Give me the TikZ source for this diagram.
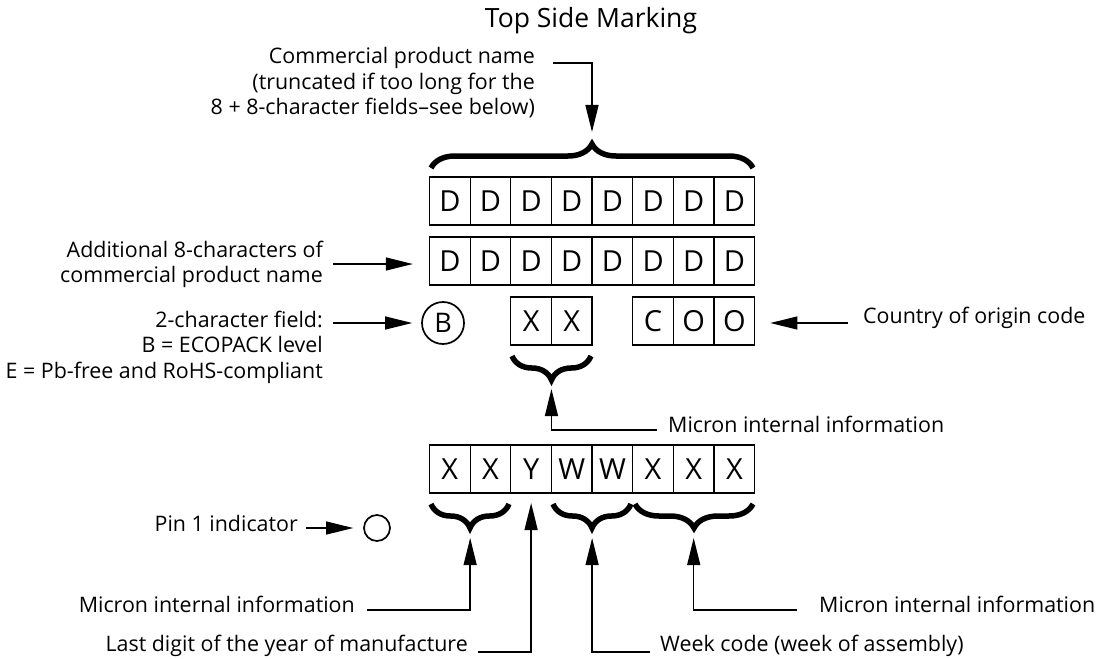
\documentclass[tikz,border=0pt]{standalone}
\usepackage{fontspec}
\setmainfont{Open Sans}
\usetikzlibrary{arrows.meta,decorations.pathreplacing}
\begin{document}
\begin{tikzpicture}[x=1pt,y=-1pt,
  lbl/.style={font=\fontsize{21.4}{25.5}\selectfont, inner sep=0pt},
  cell/.style={draw, line width=1.3pt, minimum width=40.65pt, minimum height=48pt, inner sep=0pt, font=\fontsize{29}{29}\selectfont},
  ring/.style={circle, draw, line width=1.7pt, inner sep=0pt},
  arr/.style={line width=1.4pt, -{Triangle[length=27pt,width=13pt]}},
  brc/.style={decorate, decoration={brace, amplitude=24pt}, line width=5.5pt},
]
\useasboundingbox (0,0) rectangle (1115,658);

% title
\node[lbl, font=\fontsize{26.5}{26.5}\selectfont] (title) at (591,21) {Top Side Marking};

% rows of cells
\foreach \i/\t in {1/D,2/D,3/D,4/D,5/D,6/D,7/D,8/D}{
  \node[cell] (ra\i) at ({429.5+40.65*(\i-0.5)},201) {\t};
  \node[cell] (rb\i) at ({429.5+40.65*(\i-0.5)},261) {\t};
}
\foreach \i/\t in {3/X,4/X,6/C,7/O,8/O}{
  \node[cell] (rc\i) at ({429.5+40.65*(\i-0.5)},321) {\t};
}
\foreach \i/\t in {1/X,2/X,3/Y,4/W,5/W,6/X,7/X,8/X}{
  \node[cell] (rd\i) at ({429.5+40.65*(\i-0.5)},469) {\t};
}
\node[ring, minimum size=42pt, font=\fontsize{27}{27}\selectfont] (bcirc) at (443,323) {B};
\node[ring, minimum size=26pt] (pinc) at (377,528) {};

% braces
\draw[brc] (431,168) -- (753,168);
\draw[brc] (591,356) -- (512,356);
\draw[brc] (509,504) -- (431,504);
\draw[brc] (631,504) -- (553,504);
\draw[brc] (753,504) -- (635,504);

% brace tips (arrow targets)
\coordinate (toptip) at (592,132);
\coordinate (xxtip) at (551.45,389);
\coordinate (t1) at (470.15,538);
\coordinate (ty) at (531.1,503);
\coordinate (t2) at (592.1,538);
\coordinate (t3) at (693.7,538);

% labels
\node[lbl, align=right, anchor=east] (cpn) at (535,83)
  {Commercial product name\\(truncated if too long for the\\8 + 8-character fields--see below)};
\node[lbl, align=right, anchor=east] (add) at (323,264.5)
  {Additional 8-characters of\\commercial product name};
\node[lbl, align=right, anchor=east] (tcf) at (323,347)
  {2-character field:\\B = ECOPACK level\\E = Pb-free and RoHS-compliant};
\node[lbl, anchor=west] (coo) at (863,318) {Country of origin code};
\node[lbl, anchor=west] (mim) at (668,424) {Micron internal information};
\node[lbl, anchor=east] (pin) at (298,523) {Pin 1 indicator};
\node[lbl, anchor=east] (mil) at (355,604) {Micron internal information};
\node[lbl, anchor=east] (ldy) at (468,646) {Last digit of the year of manufacture};
\node[lbl, anchor=west] (wk) at (660,646) {Week code (week of assembly)};
\node[lbl, anchor=west] (mir) at (819,604) {Micron internal information};

% line starts
\coordinate (cpnl) at (553,63);
\coordinate (addl) at (333,264);
\coordinate (tcfl) at (333,323);
\coordinate (cool) at (848,323);
\coordinate (miml) at (657,430);
\coordinate (pinl) at (306,528);
\coordinate (mill) at (367,610);
\coordinate (ldyl) at (478,652);
\coordinate (wkl) at (650,652);
\coordinate (mirl) at (797,610);

% connectors
\draw[arr] (cpnl) -| (toptip);
\draw[arr] (addl) -- ([xshift=-16pt]addl -| rb1.west);
\draw[arr] (tcfl) -- ([xshift=-9pt]bcirc.west);
\draw[arr] (cool) -- ([xshift=15pt]cool -| rc8.east);
\draw[arr] (miml) -| (xxtip);
\draw[arr] (pinl) -- ([xshift=-10pt]pinc.west);
\draw[arr] (mill) -| (t1);
\draw[arr] (ldyl) -| (ty);
\draw[arr] (wkl) -| (t2);
\draw[arr] (mirl) -| (t3);
\end{tikzpicture}
\end{document}
